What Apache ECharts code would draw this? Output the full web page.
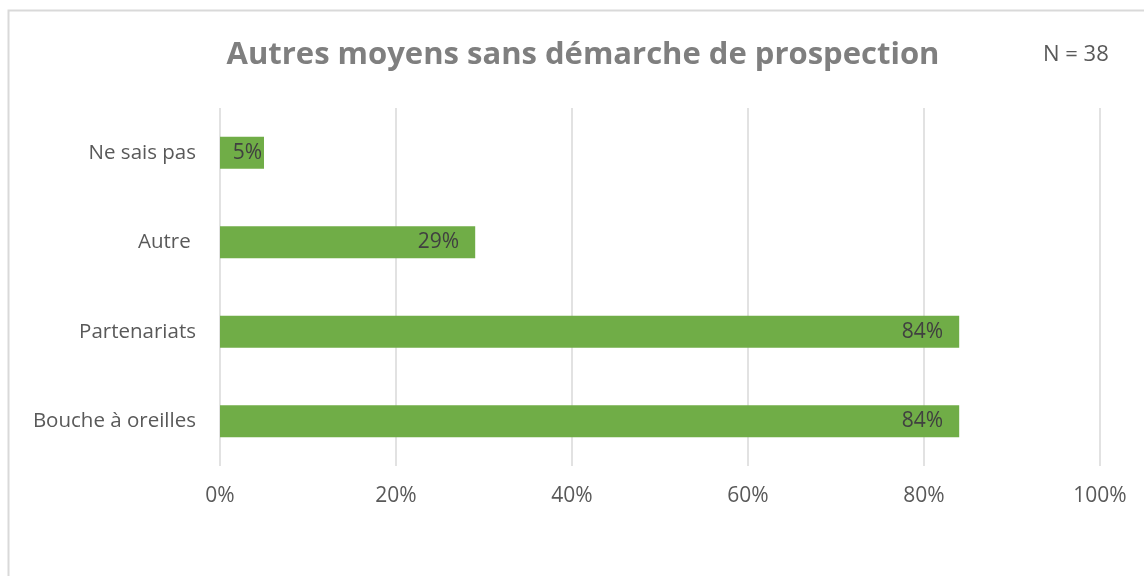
<!DOCTYPE html>
<html>
<head>
<meta charset="UTF-8">
<title></title>
<style>
	* { margin: 0; padding: 0; }
	#main { width: 1144px; height: 576px; background: #fff; }
</style>
<script src="https://cdn.jsdelivr.net/npm/echarts@6/dist/echarts.min.js"></script>
</head>
<body>
<div id="main"></div>
<script>
	var categories = ['Bouche à oreilles', 'Partenariats', 'Autre ', 'Ne sais pas'];
	var values = [84, 84, 29, 5];
	var ticks = [0, 20, 40, 60, 80, 100];

	var font = '"Open Sans", sans-serif';
	var myChart = echarts.init(document.getElementById('main'));
	var option = {
		animation: false,
		title: {
			text: 'Autres moyens sans démarche de prospection',
			left: 578,
			top: 35,
			textAlign: 'center',
			textStyle: { fontFamily: font, fontSize: 31, fontWeight: 'bold', color: '#7f7f7f' }
		},
		graphic: [{
			type: 'rect',
			shape: { x: 8.5, y: 10.5, width: 1200, height: 600 },
			style: { fill: 'none', stroke: '#d9d9d9', lineWidth: 2 }
		}, {
			type: 'text',
			left: 1043,
			top: 44,
			style: { text: 'N = 38', font: '22px ' + font, fill: '#595959' }
		}],
		grid: { left: 220, right: 44, top: 108, bottom: 110 },
		xAxis: {
			type: 'value',
			min: ticks[0],
			max: ticks[ticks.length - 1],
			interval: 20,
			axisLine: { show: false },
			axisTick: { show: false },
			splitLine: { lineStyle: { color: '#d9d9d9', width: 1.5 } },
			axisLabel: { formatter: '{value}%', margin: 20, fontFamily: font, fontSize: 21, color: '#595959' }
		},
		yAxis: {
			type: 'category',
			data: categories,
			axisLine: { show: false },
			axisTick: { show: false },
			axisLabel: { margin: 24, fontFamily: font, fontSize: 20.5, color: '#595959' }
		},
		series: [{
			type: 'bar',
			data: values,
			barWidth: '36%',
			itemStyle: { color: '#70ad47' },
			label: {
				show: true,
				position: 'insideRight',
				distance: 16,
				formatter: '{c}%',
				fontFamily: font,
				fontSize: 21,
				color: '#404040'
			},
			labelLayout: function (p) {
				if (p.rect.width < p.labelRect.width + 32) {
					return {
						x: p.rect.x + p.rect.width - 2,
						y: p.rect.y + p.rect.height / 2,
						align: 'right',
						verticalAlign: 'middle'
					};
				}
				return {};
			}
		}]
	};
	myChart.setOption(option);
</script>
</body>
</html>
